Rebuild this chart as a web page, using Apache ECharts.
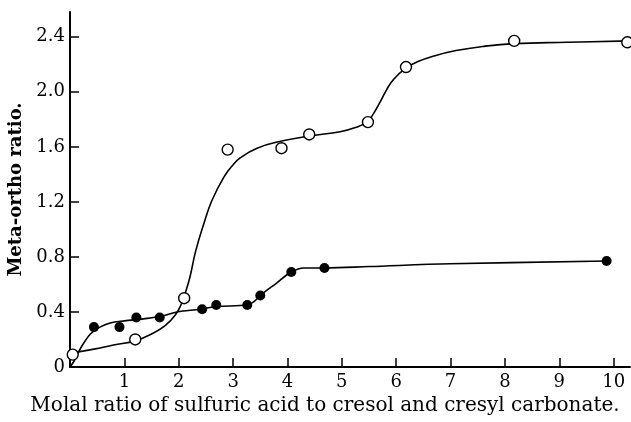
<!DOCTYPE html>
<html>
<head>
<meta charset="utf-8">
<script src="https://cdn.jsdelivr.net/npm/echarts@6/dist/echarts.min.js"></script>
<style>html,body{margin:0;padding:0;background:#fff;}#c{width:631px;height:422px;}</style>
</head>
<body>
<div id="c"></div>
<script>
// Observed data points (open circles)
const openX = [0.05, 1.20, 2.10, 2.90, 3.89, 4.40, 5.48, 6.18, 8.17, 10.25];
const openY = [0.09, 0.20, 0.50, 1.58, 1.59, 1.69, 1.78, 2.18, 2.37, 2.36];
// Observed data points (filled circles)
const filledX = [0.44, 0.91, 1.22, 1.65, 2.43, 2.69, 3.26, 3.50, 4.07, 4.68, 9.87];
const filledY = [0.29, 0.29, 0.36, 0.36, 0.42, 0.45, 0.45, 0.52, 0.69, 0.72, 0.77];
// Hand-drawn fitted curve through open circles
const openCurveX = [0.0, 0.44, 0.8, 1.2, 1.5, 1.75, 1.94, 2.05, 2.13, 2.21, 2.31, 2.46, 2.61, 2.83, 3.0, 3.13, 3.44, 3.87, 4.42, 4.97, 5.25, 5.46, 5.58, 5.71, 5.83, 5.95, 6.17, 6.4, 6.69, 7.1, 7.6, 8.17, 9.14, 10.3];
const openCurveY = [0.10, 0.13, 0.16, 0.19, 0.24, 0.30, 0.38, 0.46, 0.55, 0.66, 0.84, 1.04, 1.21, 1.38, 1.47, 1.52, 1.59, 1.64, 1.68, 1.71, 1.74, 1.78, 1.84, 1.93, 2.02, 2.09, 2.17, 2.22, 2.26, 2.30, 2.33, 2.35, 2.36, 2.37];
// Hand-drawn fitted curve through filled circles
const filledCurveX = [0.0, 0.07, 0.2, 0.375, 0.55, 0.74, 1.0, 1.35, 1.7, 1.97, 2.4, 2.69, 3.26, 3.40, 3.50, 3.8, 4.07, 4.30, 4.68, 5.5, 6.99, 9.87];
const filledCurveY = [0.0, 0.04, 0.14, 0.24, 0.29, 0.32, 0.335, 0.35, 0.37, 0.40, 0.42, 0.44, 0.45, 0.48, 0.52, 0.61, 0.69, 0.72, 0.72, 0.73, 0.75, 0.77];
// Axis ticks
const xTicks = [1, 2, 3, 4, 5, 6, 7, 8, 9, 10];
const yTicks = ['0', '0.4', '0.8', '1.2', '1.6', '2.0', '2.4'];

const zip = (a, b) => a.map((v, i) => [v, b[i]]);
const FONT = 'DejaVu Serif';

const chart = echarts.init(document.getElementById('c'));
chart.setOption({
  animation: false,
  backgroundColor: '#fff',
  grid: { left: 70, right: 1, top: 12, bottom: 55, containLabel: false, outerBoundsMode: 'none' },
  xAxis: {
    type: 'value', min: 0, max: 10.3, interval: 1,
    axisLine: { lineStyle: { color: '#000', width: 2 } },
    axisTick: { inside: true, length: 9, lineStyle: { color: '#000', width: 1.5 } },
    splitLine: { show: false },
    axisLabel: {
      color: '#000', fontFamily: FONT, fontSize: 18, margin: 6,
      showMaxLabel: false,
      formatter: v => (xTicks.indexOf(v) >= 0 ? String(v) : '')
    },
    name: 'Molal ratio of sulfuric acid to cresol and cresyl carbonate.',
    nameLocation: 'middle', nameGap: 29,
    nameTextStyle: { color: '#000', fontFamily: FONT, fontSize: 20, padding: [0, 50, 0, 0] }
  },
  yAxis: {
    type: 'value', min: 0, max: 2.58, interval: 0.4,
    axisLine: { lineStyle: { color: '#000', width: 2 } },
    axisTick: { inside: true, length: 9, lineStyle: { color: '#000', width: 1.5 } },
    splitLine: { show: false },
    axisLabel: {
      color: '#000', fontFamily: FONT, fontSize: 18, margin: 5,
      showMaxLabel: false,
      formatter: v => { const i = Math.round(v / 0.4); return (Math.abs(v - i * 0.4) < 1e-6 && yTicks[i]) ? yTicks[i] : ''; }
    },
    name: 'Meta-ortho ratio.',
    nameLocation: 'middle', nameGap: 38,
    nameTextStyle: { color: '#000', fontFamily: FONT, fontSize: 18, fontWeight: 'bold' }
  },
  series: [
    { type: 'line', data: zip(openCurveX, openCurveY), smooth: 0.45, showSymbol: false,
      lineStyle: { color: '#000', width: 1.6 }, z: 2 },
    { type: 'line', data: zip(filledCurveX, filledCurveY), smooth: 0.35, showSymbol: false,
      lineStyle: { color: '#000', width: 1.6 }, z: 2 },
    { type: 'scatter', data: zip(openX, openY), symbol: 'circle', symbolSize: 11,
      itemStyle: { color: '#fff', borderColor: '#000', borderWidth: 1.4, opacity: 1 }, z: 3 },
    { type: 'scatter', data: zip(filledX, filledY), symbol: 'circle', symbolSize: 10,
      itemStyle: { color: '#000', opacity: 1 }, z: 3 }
  ]
});
</script>
</body>
</html>
